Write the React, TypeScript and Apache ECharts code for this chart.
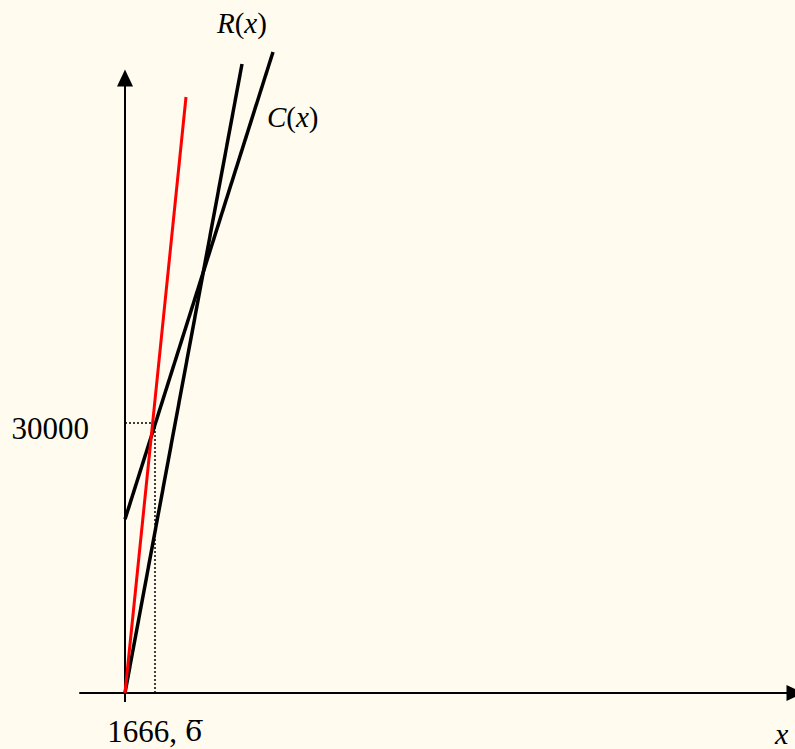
import React, { useEffect, useRef } from "react";
import * as echarts from "echarts";

// Data
const breakEven = [1666.67, 30000];
const revenueRed = [
  [0, 0],
  [3389, 66222],
];
const revenueLine = [
  [0, 0],
  [6500, 69889],
];
const costLine = [
  [0, 19300],
  [8222, 71222],
];
const xTickValues = [0];
const xLabelValues = [1666.67];
const xLabelText = ["{a|1666, }{b|6\u0305}"];
const yLabelValues = [30000];
const yLabelText = ["{v|30000}"];

const BG = "#FFFBEF";
const SERIF = "'Liberation Serif', 'Times New Roman', serif";

export default function App() {
  const ref = useRef<HTMLDivElement>(null);
  useEffect(() => {
    if (!ref.current) return;
    const chart = echarts.init(ref.current, undefined, { renderer: "svg" });
    const option = {
      animation: false,
      backgroundColor: BG,
      grid: {
        left: 80,
        right: 0,
        top: 78,
        bottom: 56,
        containLabel: false,
        outerBoundsMode: "none",
      },
      xAxis: {
        type: "value",
        min: -2500,
        max: 37222,
        splitLine: { show: false },
        axisLine: {
          onZero: true,
          symbol: ["none", "triangle"],
          symbolSize: [16, 17],
          lineStyle: { color: "#000", width: 2 },
        },
        axisTick: {
          show: true,
          customValues: xTickValues,
          length: 9,
          lineStyle: { color: "#000", width: 2 },
        },
        axisLabel: {
          customValues: xLabelValues,
          formatter: (v: number) => {
            const i = xLabelValues.findIndex((u) => Math.abs(u - v) < 1e-6);
            return i >= 0 ? xLabelText[i] : "";
          },
          color: "#000",
          fontFamily: SERIF,
          fontSize: 30,
          lineHeight: 30,
          margin: 23,
          rich: {
            a: { fontFamily: SERIF, fontSize: 31, lineHeight: 30, color: "#000" },
            b: {
              fontFamily: "'DejaVu Serif', serif",
              fontSize: 28,
              lineHeight: 30,
              color: "#000",
            },
          },
        },
      },
      yAxis: {
        type: "value",
        min: 0,
        max: 68333,
        splitLine: { show: false },
        axisLine: {
          onZero: true,
          symbol: ["none", "triangle"],
          symbolSize: [16, 17],
          lineStyle: { color: "#000", width: 2 },
        },
        axisTick: { show: false },
        axisLabel: {
          customValues: yLabelValues,
          formatter: (v: number) => {
            const i = yLabelValues.findIndex((u) => Math.abs(u - v) < 1e-6);
            return i >= 0 ? yLabelText[i] : "";
          },
          color: "#000",
          fontFamily: SERIF,
          fontSize: 31,
          margin: -9,
          rich: {
            v: { fontFamily: SERIF, fontSize: 31, color: "#000", padding: [12, 0, 0, 0] },
          },
        },
      },
      series: [
        {
          type: "line",
          data: [
            [0, breakEven[1]],
            [breakEven[0], breakEven[1]],
          ],
          showSymbol: false,
          silent: true,
          lineStyle: { color: "#000", width: 1.5, type: [2, 2] },
        },
        {
          type: "line",
          data: [
            [breakEven[0], 0],
            [breakEven[0], breakEven[1]],
          ],
          showSymbol: false,
          silent: true,
          lineStyle: { color: "#000", width: 1.5, type: [2, 2] },
        },
        {
          type: "line",
          data: costLine,
          showSymbol: false,
          clip: false,
          lineStyle: { color: "#000", width: 3.5 },
        },
        {
          type: "line",
          data: revenueLine,
          showSymbol: false,
          clip: false,
          lineStyle: { color: "#000", width: 3.5 },
        },
        {
          type: "line",
          data: revenueRed,
          showSymbol: false,
          clip: false,
          lineStyle: { color: "#FF0000", width: 3 },
        },
      ],
      graphic: [
        {
          type: "text",
          x: 217,
          y: 23,
          style: {
            text: "{i|R}{n|(}{i|x}{n|)}",
            verticalAlign: "middle",
            fill: "#000",
            rich: {
              i: { fontFamily: SERIF, fontSize: 29, fontStyle: "italic", fill: "#000" },
              n: { fontFamily: SERIF, fontSize: 29, fill: "#000" },
            },
          },
        },
        {
          type: "text",
          x: 267,
          y: 117,
          style: {
            text: "{i|C}{n|(}{i|x}{n|)}",
            verticalAlign: "middle",
            fill: "#000",
            rich: {
              i: { fontFamily: SERIF, fontSize: 29, fontStyle: "italic", fill: "#000" },
              n: { fontFamily: SERIF, fontSize: 29, fill: "#000" },
            },
          },
        },
        {
          type: "text",
          x: 775,
          y: 733,
          style: {
            text: "x",
            verticalAlign: "middle",
            font: "italic 30px " + SERIF,
            fill: "#000",
          },
        },
      ],
    };
    chart.setOption(option as any);
    return () => chart.dispose();
  }, []);
  return (
    <div
      ref={ref}
      style={{ position: "fixed", left: 0, top: 0, width: 795, height: 749 }}
    />
  );
}
